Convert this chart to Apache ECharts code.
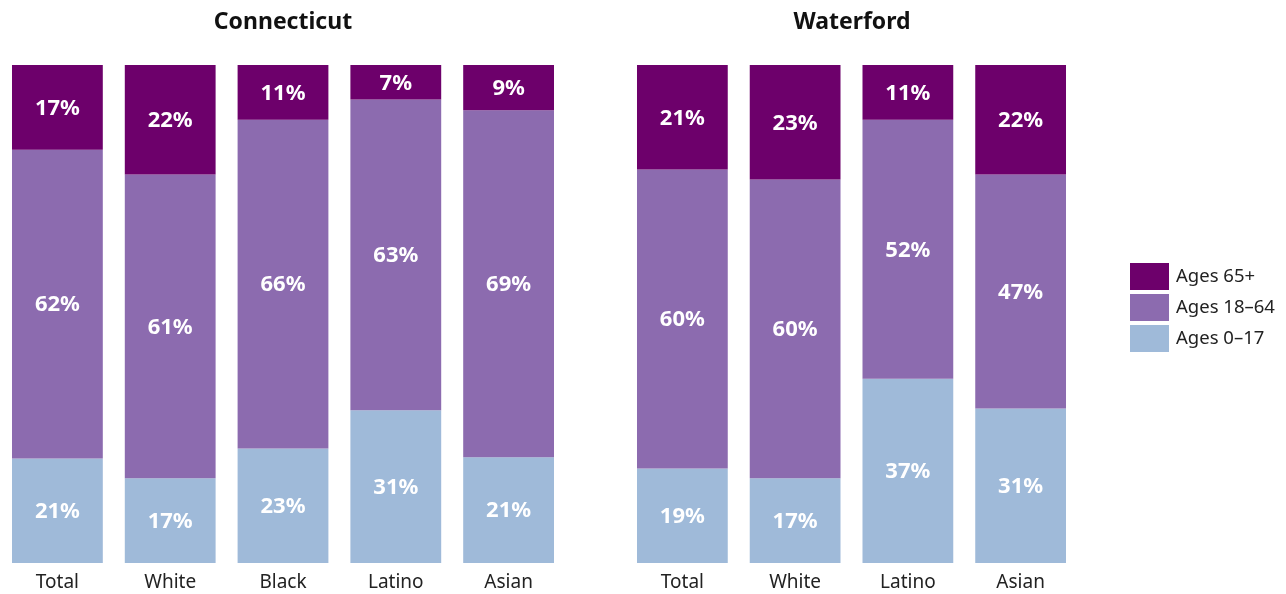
<!DOCTYPE html>
<html>
<head>
<meta charset="utf-8">
<script src="https://cdn.jsdelivr.net/npm/echarts@6/dist/echarts.min.js"></script>
<style>
  html, body { margin: 0; padding: 0; background: #fff; }
  #chart { width: 1286px; height: 594px; }
</style>
</head>
<body>
<div id="chart"></div>
<script>
// categories per panel
const ctCategories = ['Total', 'White', 'Black', 'Latino', 'Asian'];
const wfCategories = ['Total', 'White', 'Latino', 'Asian'];

// percent shares as labelled
const ctAge0to17 = [21, 17, 23, 31, 21];
const ctAge18to64 = [62, 61, 66, 63, 69];
const ctAge65 = [17, 22, 11, 7, 9];

const wfAge0to17 = [19, 17, 37, 31];
const wfAge18to64 = [60, 60, 52, 47];
const wfAge65 = [21, 23, 11, 22];

const seriesNames = ['Ages 0\u201317', 'Ages 18\u201364', 'Ages 65+'];
const colors = ['#9fbad9', '#8c6baf', '#6d006b'];

const fontFamily = '"Noto Sans", "Open Sans", sans-serif';

// bars fill 100% of the height, so shares are scaled by the bar total
function toShares(groups) {
  const totals = groups[0].map((_, i) => groups.reduce((s, g) => s + g[i], 0));
  return groups.map(g => g.map((v, i) => v / totals[i] * 100));
}

function makeSeries(groups, axisIndex, stackName) {
  const shares = toShares(groups);
  return groups.map((raw, k) => ({
    name: seriesNames[k],
    type: 'bar',
    stack: stackName,
    xAxisIndex: axisIndex,
    yAxisIndex: axisIndex,
    barCategoryGap: '19.5%',
    itemStyle: { color: colors[k] },
    label: {
      show: true,
      position: 'inside',
      offset: [0, 1],
      color: '#fff',
      fontSize: 22,
      fontWeight: 'bold',
      fontFamily: fontFamily,
      formatter: p => raw[p.dataIndex] + '%'
    },
    emphasis: { disabled: true },
    data: shares[k]
  }));
}

const chart = echarts.init(document.getElementById('chart'));

function axisX(data, gridIndex) {
  return {
    type: 'category',
    gridIndex: gridIndex,
    data: data,
    axisLine: { show: false },
    axisTick: { show: false },
    axisLabel: { color: '#222', fontSize: 19, margin: 10, fontFamily: fontFamily }
  };
}

function axisY(gridIndex) {
  return {
    type: 'value',
    gridIndex: gridIndex,
    min: 0,
    max: 100,
    show: false
  };
}

const option = {
  animation: false,
  title: [
    {
      text: 'Connecticut',
      left: 278, top: 6, textAlign: 'center',
      textStyle: { fontSize: 23, fontWeight: 'bold', color: '#111', fontFamily: fontFamily }
    },
    {
      text: 'Waterford',
      left: 847, top: 6, textAlign: 'center',
      textStyle: { fontSize: 23, fontWeight: 'bold', color: '#111', fontFamily: fontFamily }
    }
  ],
  legend: {
    data: ['Ages 65+', 'Ages 18\u201364', 'Ages 0\u201317'],
    orient: 'vertical',
    left: 1130,
    top: 263,
    padding: 0,
    itemWidth: 39,
    itemHeight: 27,
    itemGap: 4,
    icon: 'rect',
    selectedMode: false,
    textStyle: { fontSize: 18.5, color: '#222', fontFamily: fontFamily, padding: [0, 0, 0, 2] }
  },
  grid: [
    { left: 1, width: 564, top: 65, bottom: 31 },
    { left: 626, width: 451, top: 65, bottom: 31 }
  ],
  xAxis: [axisX(ctCategories, 0), axisX(wfCategories, 1)],
  yAxis: [axisY(0), axisY(1)],
  series: [
    ...makeSeries([ctAge0to17, ctAge18to64, ctAge65], 0, 'ct'),
    ...makeSeries([wfAge0to17, wfAge18to64, wfAge65], 1, 'wf')
  ]
};

chart.setOption(option);
</script>
</body>
</html>
